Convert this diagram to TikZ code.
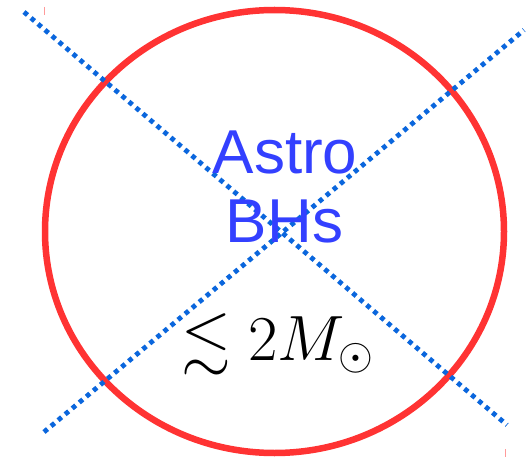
\RequirePackage{fix-cm}
\documentclass[tikz,border=0pt]{standalone}
\usepackage{amssymb}
\usepackage{fontspec}
\setsansfont{Liberation Sans}
\definecolor{ringred}{HTML}{FF3333}
\definecolor{dashblue}{HTML}{0A66DD}
\definecolor{textblue}{HTML}{3340FF}
\definecolor{tickpink}{HTML}{FF9A9A}
\tikzset{
  ring/.style={draw=ringred, line width=6.5pt},
  crossline/.style={draw=dashblue, line width=4.8pt, dash pattern=on 4.6pt off 4.6pt},
  bluelabel/.style={text=textblue, font=\sffamily\fontsize{62}{62}\selectfont, inner sep=0pt, anchor=base},
  masslabel/.style={font=\fontsize{64}{64}\selectfont, inner sep=0pt, anchor=base},
  tick/.style={draw=tickpink, line width=1pt}
}
\begin{document}
\begin{tikzpicture}[x=1pt,y=-1pt]
\useasboundingbox (0,0) rectangle (532,457);
\draw[ring] (274.5,231.5) ellipse [x radius=229.5, y radius=221.5];
\coordinate (l1a) at (24,12);
\coordinate (l1b) at (507,425);
\coordinate (l2a) at (44,432);
\coordinate (l2b) at (524,30);
\draw[crossline] (l1a) -- (l1b);
\draw[crossline] (l2a) -- (l2b);
\coordinate (t1a) at (44,7);
\coordinate (t1b) at (44,15);
\coordinate (t2a) at (505,449);
\coordinate (t2b) at (505,457);
\draw[tick] (t1a) -- (t1b);
\draw[tick] (t2a) -- (t2b);
\node[bluelabel] (astro) at (285,173) {Astro};
\node[bluelabel] (bhs) at (284.5,242) {BHs};
\node[masslabel] (mass) at (277.5,360) {$\lesssim 2M_\odot$};
\end{tikzpicture}
\end{document}
